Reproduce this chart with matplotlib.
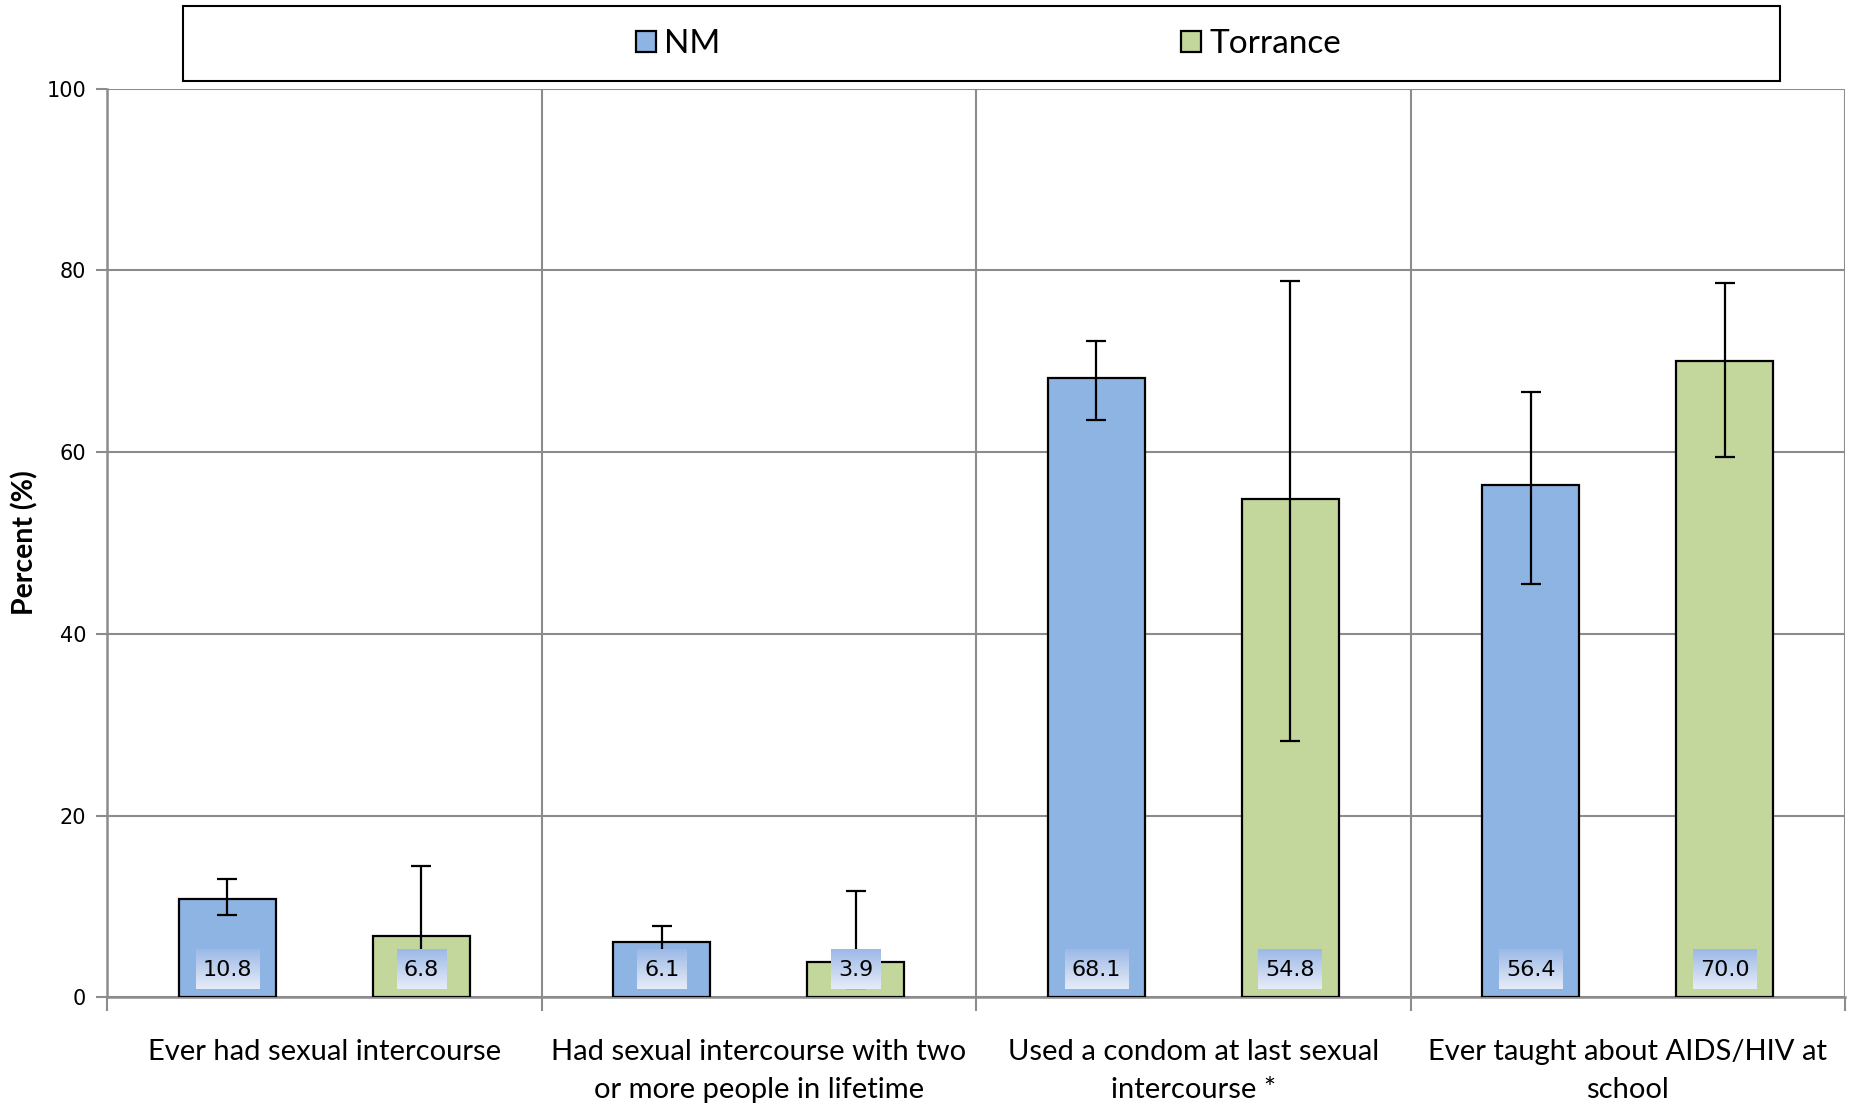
import matplotlib
matplotlib.use("Agg")
import matplotlib.pyplot as plt
import numpy as np
from matplotlib.colors import LinearSegmentedColormap
from matplotlib.patches import Rectangle

# data
categories = ["Ever had sexual intercourse",
              "Had sexual intercourse with two\nor more people in lifetime",
              "Used a condom at last sexual\nintercourse *",
              "Ever taught about AIDS/HIV at\nschool"]
series = ["NM", "Torrance"]
nm_vals = [10.8, 6.1, 68.1, 56.4]
nm_low = [9.1, 4.6, 63.5, 45.5]
nm_high = [13.0, 7.9, 72.2, 66.6]
tor_vals = [6.8, 3.9, 54.8, 70.0]
tor_low = [2.5, 1.0, 28.2, 59.5]
tor_high = [14.5, 11.7, 78.8, 78.6]
yticks = [0, 20, 40, 60, 80, 100]

colors = ["#8EB4E3", "#C3D69B"]
grid_c = "#8C8C8C"
lab_font = ["Lato", "DejaVu Sans"]

fig = plt.figure(figsize=(18.51, 11.04), dpi=100)
ax = fig.add_axes([0.0578, 0.0965, 0.939, 0.8233])

x = np.arange(len(categories))
w = 0.223
bars_all = []
for k, (vals, lo, hi) in enumerate([(nm_vals, nm_low, nm_high), (tor_vals, tor_low, tor_high)]):
    pos = x + (-w if k == 0 else w)
    b = ax.bar(pos, vals, width=w, color=colors[k], edgecolor="black", linewidth=1.6,
               label=series[k], zorder=3)
    vals_a = np.array(vals)
    err = [vals_a - np.array(lo), np.array(hi) - vals_a]
    ax.errorbar(pos, vals, yerr=err, fmt="none", ecolor="black", elinewidth=1.6,
                capsize=7, capthick=1.6, zorder=4)
    bars_all.append((pos, vals))

ax.set_xlim(-0.5, len(categories) - 0.5)
ax.set_ylim(0, 100)
ax.set_yticks(yticks)
ax.set_yticklabels([str(t) for t in yticks], fontsize=15, family="DejaVu Sans")
ax.set_xticks(x)
ax.set_xticklabels(categories, fontsize=21, family=lab_font, va="top", linespacing=1.55)
ax.set_xticks(np.arange(len(categories) + 1) - 0.5, minor=True)
ax.tick_params(axis="x", which="major", length=0, pad=30)
ax.tick_params(axis="x", which="minor", length=10, color=grid_c, width=1.5)
ax.tick_params(axis="y", length=8, color=grid_c, width=1.5, pad=7)
ax.grid(axis="y", color=grid_c, linewidth=1.5, zorder=0)
ax.grid(axis="x", which="minor", color=grid_c, linewidth=1.5, zorder=0)
ax.set_axisbelow(True)
for s in ["top", "right"]:
    ax.spines[s].set_visible(False)
for s in ["left", "bottom"]:
    ax.spines[s].set_color(grid_c)
    ax.spines[s].set_linewidth(1.8)
ax.set_ylabel("Percent (%)", fontsize=20.5, fontweight="bold", family=lab_font, labelpad=6)

# value labels with gradient boxes
texts = []
for pos, vals in bars_all:
    for xp, v in zip(pos, vals):
        t = ax.text(xp, 3.0, f"{v:.1f}", ha="center", va="center", fontsize=16,
                    family="DejaVu Sans", color="black", zorder=7)
        texts.append(t)

fig.canvas.draw()
cmap = LinearSegmentedColormap.from_list("lbl", ["#E6ECF8", "#9DB9E6"])
grad = np.linspace(0, 1, 64).reshape(-1, 1)
inv = ax.transData.inverted()
r = fig.canvas.get_renderer()
for t in texts:
    bb = t.get_window_extent(renderer=r)
    x0 = inv.transform((bb.x0 - 7, 0))[0]
    x1 = inv.transform((bb.x1 + 7, 0))[0]
    ax.imshow(grad, extent=(x0, x1, 0.9, 5.3), origin="lower", cmap=cmap,
              aspect="auto", zorder=6)
ax.set_xlim(-0.5, len(categories) - 0.5)
ax.set_ylim(0, 100)

# legend in a box above the plot
fig.patches.append(Rectangle((0.0989, 0.9266), 0.8628, 0.068, transform=fig.transFigure,
                             fill=False, edgecolor="black", linewidth=1.5))
handles, labels = ax.get_legend_handles_labels()
leg = fig.legend(handles, labels, loc="center", bbox_to_anchor=(0.534, 0.960), ncol=2,
                 frameon=False, prop={"family": lab_font, "size": 24},
                 columnspacing=13.8, handlelength=0.6, handleheight=0.6, handletextpad=0.25)

fig.savefig("out.png", dpi=100)
